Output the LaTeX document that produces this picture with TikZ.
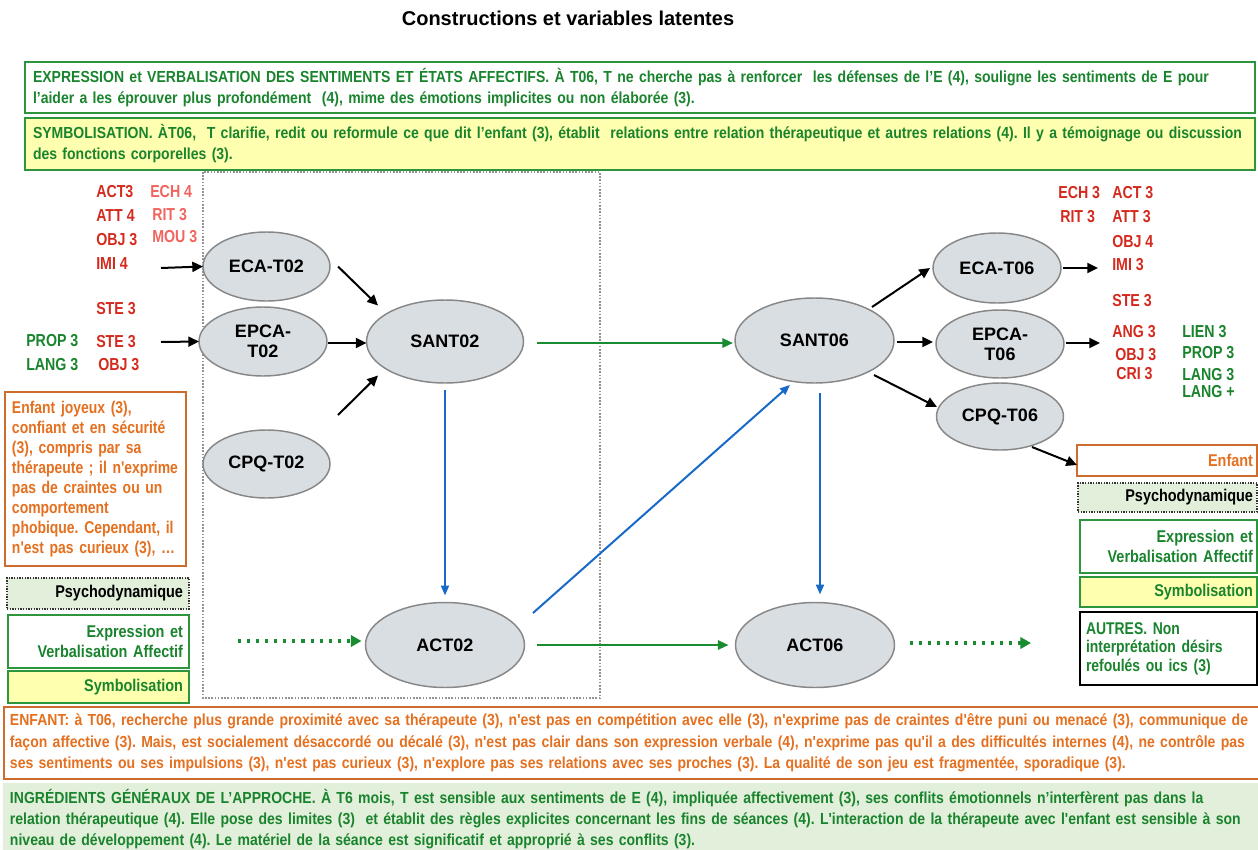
\documentclass[tikz,border=0pt]{standalone}
\usepackage{fontspec}
\setmainfont{Liberation Sans}
\newfontfamily\nar{Liberation Sans}[FakeStretch=0.82]
\newfontfamily\narw{Liberation Sans}[FakeStretch=0.876]
\newfontfamily\narb{Liberation Sans}[FakeStretch=0.85]
\usetikzlibrary{shapes.geometric,arrows.meta}
\definecolor{tgreen}{RGB}{25,132,45}
\definecolor{bgreen}{RGB}{45,150,60}
\definecolor{torange}{RGB}{228,112,32}
\definecolor{borange}{RGB}{205,108,45}
\definecolor{tred}{RGB}{212,42,30}
\definecolor{lred}{RGB}{242,100,94}
\definecolor{efill}{RGB}{217,222,226}
\definecolor{edraw}{RGB}{135,135,135}
\definecolor{yfill}{RGB}{255,255,176}
\definecolor{gfill}{RGB}{226,239,218}
\definecolor{ablue}{RGB}{25,105,200}
\definecolor{agreen}{RGB}{25,140,50}
\newcommand\ntxt{\narw\bfseries\fontsize{12}{15.75}\selectfont}
\newcommand\nbox{\narb\bfseries\fontsize{12.75}{15}\selectfont}
\frenchspacing
\begin{document}
\begin{tikzpicture}[x=0.75pt,y=-0.75pt,
  tbox/.style={rectangle, inner xsep=6pt, inner ysep=0pt, outer sep=0pt, line width=1.1pt, anchor=north west, align=left},
  lat/.style={ellipse, draw=edraw, fill=efill, line width=1.1pt, inner sep=0pt, outer sep=0pt, font=\bfseries\fontsize{13.5}{15}\selectfont, align=center},
  lab/.style={anchor=west, inner sep=0pt, font=\nar\bfseries\fontsize{13}{15}\selectfont, text=tred},
  llab/.style={lab, text=lred},
  glab/.style={lab, text=tgreen},
  arr/.style={line width=1.5pt, -{Triangle[length=8pt,width=7.5pt]}},
  barr/.style={draw=ablue, line width=1.5pt, -{Triangle[length=7.5pt,width=6pt]}},
  garr/.style={draw=agreen, line width=1.6pt, -{Triangle[length=8pt,width=7pt]}},
  gdot/.style={draw=agreen, line width=2.5pt, dash pattern=on 2.3pt off 4.5pt, -{Triangle[length=8pt,width=8.5pt]}},
  dotrect/.style={draw=gray!85, line width=0.9pt, dash pattern=on 1.2pt off 1.2pt},
  psybox/.style={tbox, draw=black!80, fill=gfill, line width=0.9pt, dash pattern=on 1pt off 1pt, align=right, font=\nbox}
]
\useasboundingbox (0,0) rectangle (1258,850);

\node[font=\bfseries\fontsize{15}{18}\selectfont] (title) at (568,18) {Constructions et variables latentes};

% top boxes
\node[tbox, draw=bgreen, fill=white, minimum width=922.5pt, minimum height=38.25pt, text width=910.5pt, text=tgreen, font=\ntxt] (expr) at (25,62)
{EXPRESSION et VERBALISATION DES SENTIMENTS ET ÉTATS AFFECTIFS. À T06, T ne cherche pas à renforcer \ les défenses de l’E (4), souligne les sentiments de E pour\\l’aider a les éprouver plus profondément \ (4), mime des émotions implicites ou non élaborée (3).};
\node[tbox, draw=bgreen, fill=yfill, minimum width=922.5pt, minimum height=39pt, text width=910.5pt, text=tgreen, font=\ntxt] (symb) at (25,118)
{SYMBOLISATION. ÀT06, \ T clarifie, redit ou reformule ce que dit l’enfant (3), établit \ relations entre relation thérapeutique et autres relations (4). Il y a témoignage ou discussion\\des fonctions corporelles (3).};

% dotted frame
\draw[dotrect] (203,172) rectangle (600,698);

% left labels
\node[lab] (l-act) at (96,192) {ACT3};
\node[lab] (l-att) at (96,216) {ATT 4};
\node[lab] (l-obj) at (96,240) {OBJ 3};
\node[lab] (l-imi) at (96,264) {IMI 4};
\node[llab] (l-ech) at (150,192) {ECH 4};
\node[llab] (l-rit) at (152,215) {RIT 3};
\node[llab] (l-mou) at (152,237) {MOU 3};
\node[lab] (l-ste1) at (96,309) {STE 3};
\node[lab] (l-ste2) at (96,342) {STE 3};
\node[lab] (l-obj2) at (98,365) {OBJ 3};
\node[glab] (l-prop) at (26,341) {PROP 3};
\node[glab] (l-lang) at (26,365) {LANG 3};

% right labels
\node[lab] (r-ech) at (1058,193) {ECH 3};
\node[lab] (r-rit) at (1060,217) {RIT 3};
\node[lab] (r-act) at (1112,193) {ACT 3};
\node[lab] (r-att) at (1112,217) {ATT 3};
\node[lab] (r-obj) at (1112,242) {OBJ 4};
\node[lab] (r-imi) at (1112,265) {IMI 3};
\node[lab] (r-ste) at (1112,301) {STE 3};
\node[lab] (r-ang) at (1112,332) {ANG 3};
\node[lab] (r-obj2) at (1115,355) {OBJ 3};
\node[lab] (r-cri) at (1116,374) {CRI 3};
\node[glab] (r-lien) at (1182,332) {LIEN 3};
\node[glab] (r-prop) at (1182,353) {PROP 3};
\node[glab] (r-lang) at (1182,375) {LANG 3};
\node[glab] (r-langp) at (1182,392) {LANG +};

% latent variables
\node[lat, minimum width=95.25pt, minimum height=51.75pt] (ecat02) at (266.5,266.5) {ECA-T02};
\node[lat, minimum width=96pt, minimum height=51.75pt] (epcat02) at (263,341.5) {EPCA-\\T02};
\node[lat, minimum width=95.25pt, minimum height=51pt] (cpqt02) at (266.5,464) {CPQ-T02};
\node[lat, minimum width=117.75pt, minimum height=62.25pt] (sant02) at (445,341.5) {SANT02};
\node[lat, minimum width=119.25pt, minimum height=63.75pt] (act02) at (445,645) {ACT02};
\node[lat, minimum width=119.25pt, minimum height=63.75pt] (sant06) at (814.5,340.5) {SANT06};
\node[lat, minimum width=119.25pt, minimum height=63.75pt] (act06) at (815,645) {ACT06};
\node[lat, minimum width=96pt, minimum height=52.5pt] (ecat06) at (997,268) {ECA-T06};
\node[lat, minimum width=96pt, minimum height=51pt] (epcat06) at (1000,344) {EPCA-\\T06};
\node[lat, minimum width=95.25pt, minimum height=50.25pt] (cpqt06) at (1000,416.5) {CPQ-T06};

% left boxes
\node[tbox, draw=borange, fill=white, minimum width=135.75pt, minimum height=130.5pt, inner xsep=5.25pt, text width=125.25pt, text=torange, font=\nar\bfseries\fontsize{12.75}{15}\selectfont] (enf1) at (5,392)
{Enfant joyeux (3),\\confiant et en sécurité\\(3), compris par sa\\thérapeute ; il n'exprime\\pas de craintes ou un\\comportement\\phobique. Cependant, il\\n'est pas curieux (3), …};
\node[psybox, minimum width=136.5pt, minimum height=23.25pt, inner xsep=4.5pt, text width=127.5pt] (psy1) at (7,578) {Psychodynamique};
\node[tbox, draw=bgreen, fill=white, minimum width=135.75pt, minimum height=39.75pt, inner xsep=4.5pt, text width=126.75pt, align=right, text=tgreen, font=\nbox] (eva1) at (8,615) {Expression et\\Verbalisation Affectif};
\node[tbox, draw=bgreen, fill=yfill, minimum width=135.75pt, minimum height=24pt, inner xsep=4.5pt, text width=126.75pt, align=right, text=tgreen, font=\nbox] (sym1) at (8,671) {Symbolisation};

% right boxes
\node[tbox, draw=borange, fill=white, minimum width=135pt, minimum height=23.25pt, inner xsep=3pt, text width=129pt, align=right, text=torange, font=\nbox] (enf2) at (1077,445) {Enfant};
\node[psybox, minimum width=134.25pt, minimum height=21.75pt, inner xsep=3pt, text width=128.25pt] (psy2) at (1078,483) {Psychodynamique};
\node[tbox, draw=bgreen, fill=white, minimum width=132.75pt, minimum height=39.75pt, inner xsep=3pt, text width=126.75pt, align=right, text=tgreen, font=\nbox] (eva2) at (1080,520) {Expression et\\Verbalisation Affectif};
\node[tbox, draw=bgreen, fill=yfill, minimum width=132.75pt, minimum height=22.5pt, inner xsep=3pt, text width=126.75pt, align=right, text=tgreen, font=\nbox] (sym2) at (1080,577) {Symbolisation};
\node[tbox, draw=black, fill=white, minimum width=132.75pt, minimum height=54.75pt, inner xsep=4.5pt, text width=123.75pt, text=tgreen, font=\nar\bfseries\fontsize{12.75}{13.9}\selectfont] (autres) at (1080,612) {AUTRES. Non\\interprétation désirs\\refoulés ou ics (3)};

% bottom boxes
\node[tbox, draw=borange, fill=white, line width=1.5pt, minimum width=943.5pt, minimum height=54pt, inner xsep=4.5pt, text width=934.5pt, text=torange, font=\narw\bfseries\fontsize{12}{16}\selectfont] (enfant) at (4,707)
{ENFANT: à T06, recherche plus grande proximité avec sa thérapeute (3), n'est pas en compétition avec elle (3), n'exprime pas de craintes d'être puni ou menacé (3), communique de\\façon affective (3). Mais, est socialement désaccordé ou décalé (3), n'est pas clair dans son expression verbale (4), n'exprime pas qu'il a des difficultés internes (4), ne contrôle pas\\ses sentiments ou ses impulsions (3), n'est pas curieux (3), n'explore pas ses relations avec ses proches (3). La qualité de son jeu est fragmentée, sporadique (3).};
\node[tbox, fill=gfill, minimum width=944.25pt, minimum height=54pt, inner xsep=5.25pt, text width=933.75pt, text=tgreen, font=\narw\bfseries\fontsize{12}{15.5}\selectfont] (ingr) at (3,783)
{INGRÉDIENTS GÉNÉRAUX DE L’APPROCHE. À T6 mois, T est sensible aux sentiments de E (4), impliquée affectivement (3), ses conflits émotionnels n’interfèrent pas dans la\\relation thérapeutique (4). Elle pose des limites (3) \ et établit des règles explicites concernant les fins de séances (4). L'interaction de la thérapeute avec l'enfant est sensible à son\\niveau de développement (4). Le matériel de la séance est significatif et approprié à ses conflits (3).};

% free ends
\coordinate (in1) at (161,268);
\coordinate (in2) at (161,342);
\coordinate (in3) at (338,415);
\coordinate (dl) at (238,641);
\coordinate (dr) at (1031,643);
\coordinate (o1) at (1098,268);
\coordinate (o2) at (1100,343);

% connectors
\draw[arr] (in1) -- (ecat02.west);
\draw[arr] (in2) -- (epcat02.west);
\draw[arr] ([shift={(8,0)}]ecat02.east) -- ([shift={(-67,-36)}]sant02.center);
\draw[arr] ([shift={(1,1.5)}]epcat02.east) -- ([shift={(0,1.5)}]sant02.west);
\draw[arr] (in3) -- ([shift={(-67,34)}]sant02.center);
\draw[garr] ([shift={(13,1.5)}]sant02.east) -- ([shift={(-2,2.5)}]sant06.west);
\draw[barr] ([shift={(0,7)}]sant02.south) -- ([shift={(0,-7)}]act02.north);
\draw[barr] ([shift={(88,-32)}]act02.center) -- ([shift={(-24.5,44.5)}]sant06.center);
\draw[garr] ([shift={(12.5,0)}]act02.east) -- ([shift={(-7,0)}]act06.west);
\draw[barr] ([shift={(5.5,10)}]sant06.south) -- ([shift={(5,-8)}]act06.north);
\draw[gdot] (dl) -- ([shift={(-4,-4)}]act02.west);
\draw[gdot] ([shift={(15,-2)}]act06.east) -- (dr);
\draw[arr] ([shift={(57.5,-33.5)}]sant06.center) -- ([shift={(-3,0)}]ecat06.west);
\draw[arr] ([shift={(3,1.5)}]sant06.east) -- ([shift={(-3,-2)}]epcat06.west);
\draw[arr] ([shift={(59.5,34.5)}]sant06.center) -- ([shift={(-63,-9.5)}]cpqt06.center);
\draw[arr] ([shift={(32,30.5)}]cpqt06.center) -- ([shift={(0,20)}]enf2.north west);
\draw[arr] ([shift={(2,0)}]ecat06.east) -- (o1);
\draw[arr] ([shift={(2,-1)}]epcat06.east) -- (o2);
\end{tikzpicture}
\end{document}
